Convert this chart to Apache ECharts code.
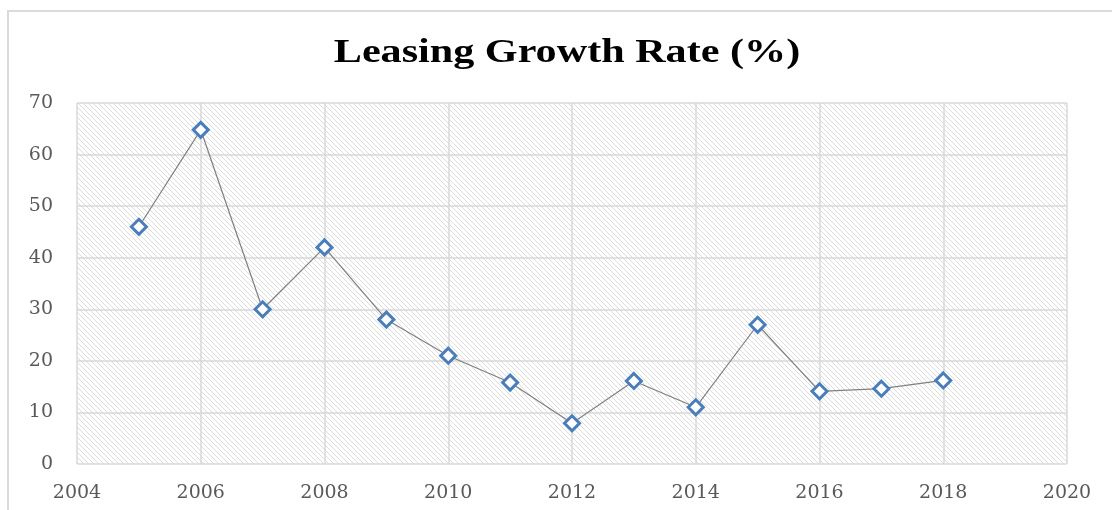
<!DOCTYPE html>
<html>
<head>
<meta charset="utf-8">
<script src="https://cdn.jsdelivr.net/npm/echarts@6/dist/echarts.min.js"></script>
<style>
  html, body { margin: 0; padding: 0; background: #fff; }
  #frame { position: absolute; left: 7px; top: 10px; width: 1200px; height: 600px;
           border: 2px solid #dadada; box-sizing: border-box; }
  #main { position: absolute; left: 0; top: 0; width: 1112px; height: 510px; }
</style>
</head>
<body>
<div id="frame"></div>
<div id="main"></div>
<script>
(function () {
    // data
    var years = [2005, 2006, 2007, 2008, 2009, 2010, 2011, 2012, 2013, 2014, 2015, 2016, 2017, 2018];
    var growth = [46, 64.8, 30, 42, 28, 21, 15.8, 7.9, 16.1, 11, 27, 14.1, 14.6, 16.2];
    var titleText = 'Leasing Growth Rate (%)';

    // diagonal hatch for plot background
    var hatch = document.createElement('canvas');
    hatch.width = 5;
    hatch.height = 5;
    var ctx = hatch.getContext('2d');
    ctx.fillStyle = '#ffffff';
    ctx.fillRect(0, 0, 5, 5);
    ctx.strokeStyle = '#dcdcdc';
    ctx.lineWidth = 1;
    ctx.beginPath();
    ctx.moveTo(-1, -1); ctx.lineTo(6, 6);
    ctx.moveTo(-1, 4); ctx.lineTo(1, 6);
    ctx.moveTo(4, -1); ctx.lineTo(6, 1);
    ctx.stroke();

    var points = years.map(function (y, i) { return [y, growth[i]]; });

    var labelStyle = {
        fontFamily: 'DejaVu Serif',
        fontSize: 19,
        color: '#595959'
    };

    var myChart = echarts.init(document.getElementById('main'));
    var option = {
        graphic: [
            {
                type: 'text',
                x: 567,
                y: 70,
                scaleX: 1.24,
                style: {
                    text: titleText,
                    fontFamily: 'Liberation Serif',
                    fontWeight: 'bold',
                    fontSize: 34,
                    fill: '#000',
                    textAlign: 'center',
                    textVerticalAlign: 'bottom'
                }
            }
        ],
        grid: {
            left: 77,
            right: 45,
            top: 103,
            bottom: 46,
            show: true,
            borderWidth: 0,
            backgroundColor: { image: hatch, repeat: 'repeat' }
        },
        xAxis: {
            type: 'value',
            min: 2004,
            max: 2020,
            interval: 2,
            axisLine: { show: false },
            axisTick: { show: false },
            axisLabel: Object.assign({
                margin: 20,
                formatter: function (v) { return String(v); }
            }, labelStyle),
            splitLine: { show: true, lineStyle: { color: '#d9d9d9', width: 1.5 } }
        },
        yAxis: {
            type: 'value',
            min: 0,
            max: 70,
            interval: 10,
            axisLine: { show: false },
            axisTick: { show: false },
            axisLabel: Object.assign({ margin: 24 }, labelStyle),
            splitLine: { show: true, lineStyle: { color: '#d9d9d9', width: 1.5 } }
        },
        series: [
            {
                type: 'line',
                data: points,
                symbol: 'diamond',
                symbolSize: 15,
                lineStyle: { color: '#808080', width: 1.2 },
                itemStyle: { color: '#ffffff', borderColor: '#4a7ebb', borderWidth: 3 },
                animation: false
            }
        ]
    };
    myChart.setOption(option);
})();
</script>
</body>
</html>
